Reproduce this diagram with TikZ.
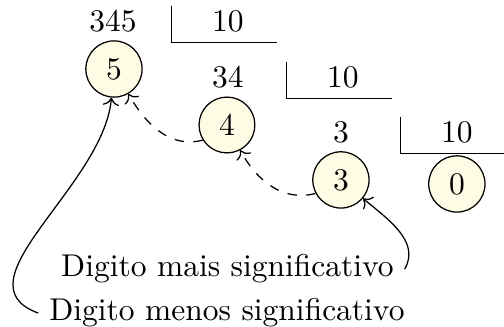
\documentclass[tikz,border=0pt]{standalone}
\usepackage{amsmath}
\usepackage{tikz}
\usetikzlibrary{arrows.meta, positioning, calc}

\definecolor{digitfill}{RGB}{255, 252, 230}

\tikzset{
    resto/.style={circle, draw, fill=digitfill, inner sep=3.33pt},
    numero/.style={inner sep=3.33pt},
}

% bracket of the division below a divisor node
\newcommand{\chave}[1]{\draw ([shift={(-0.63,0.17)}]#1.center) |- ([shift={(0.55,-0.24)}]#1.center);}

\begin{document}
\begin{tikzpicture}
                \useasboundingbox (0,0) rectangle (5.625,3.649);

                % Dividends and divisors
                \node[numero] (n345) at (1.261, 3.415) {345};
                \node[numero] (d1) at (2.544, 3.415) {10};
                \node[numero] (n34) at (2.544, 2.790) {34};
                \node[numero] (d2) at (3.827, 2.790) {10};
                \node[numero] (n3) at (3.805, 2.176) {3};
                \node[numero] (d3) at (5.099, 2.176) {10};
                \chave{d1}
                \chave{d2}
                \chave{d3}

                % Remainders
                \node[resto] (r5) at (1.272, 2.879) {5};
                \node[resto] (r4) at (2.533, 2.254) {4};
                \node[resto] (r3) at (3.805, 1.641) {3};
                \node[resto] (r0) at (5.099, 1.596) {0};

                % Labels
                \node[anchor=base] (mais) at (2.538, 0.558) {Digito mais significativo};
                \node[anchor=base] (menos) at (2.533, 0.067) {Digito menos significativo};

                % Order of the digits
                \draw[->, dashed] (r4.212) to[out=195, in=-60] (r5);
                \draw[->, dashed] (r3.208) to[out=195, in=-62] (r4);
                \draw[->] (mais.east) to[out=60, in=-40] (r3);
                \draw[->] (menos.west) to[out=160, in=-95] (r5);
            \end{tikzpicture}
\end{document}
